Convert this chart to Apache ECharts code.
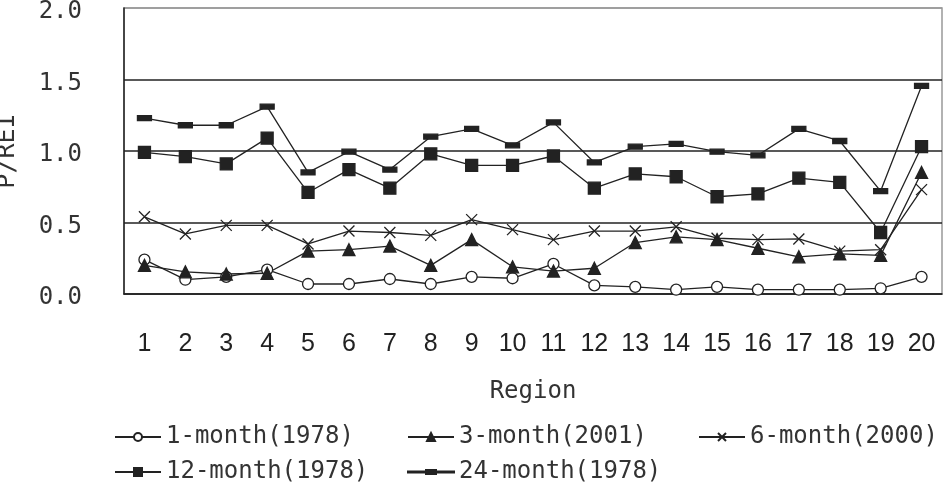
<!DOCTYPE html>
<html lang="en">
<head>
    <meta charset="UTF-8">
    <title>P/REI by region</title>
    <script src="https://cdn.jsdelivr.net/npm/echarts@6/dist/echarts.min.js"></script>
</head>
<body style="margin:0">
    <div id="container" style="width: 950px;height: 493px"></div>
    <script>
        // regions 1..20
        var regions = ['1', '2', '3', '4', '5', '6', '7', '8', '9', '10',
            '11', '12', '13', '14', '15', '16', '17', '18', '19', '20'];
        var yTicks = [0, 0.5, 1.0, 1.5, 2.0];

        var month1 = [0.24, 0.10, 0.12, 0.17, 0.07, 0.07, 0.105, 0.07, 0.12, 0.11,
            0.21, 0.06, 0.05, 0.03, 0.05, 0.03, 0.03, 0.03, 0.04, 0.12];
        var month3 = [0.20, 0.155, 0.14, 0.145, 0.30, 0.31, 0.335, 0.20, 0.38, 0.19,
            0.16, 0.18, 0.36, 0.40, 0.38, 0.32, 0.26, 0.28, 0.27, 0.85];
        var month6 = [0.54, 0.42, 0.48, 0.48, 0.35, 0.44, 0.43, 0.41, 0.52, 0.45,
            0.38, 0.44, 0.44, 0.47, 0.39, 0.38, 0.385, 0.30, 0.31, 0.73];
        var month12 = [0.99, 0.96, 0.91, 1.09, 0.71, 0.87, 0.74, 0.98, 0.90, 0.90,
            0.965, 0.74, 0.84, 0.82, 0.68, 0.70, 0.81, 0.78, 0.43, 1.03];
        var month24 = [1.23, 1.18, 1.18, 1.31, 0.85, 0.995, 0.87, 1.10, 1.155, 1.04,
            1.20, 0.92, 1.03, 1.05, 0.995, 0.97, 1.155, 1.07, 0.72, 1.455];

        var names = ['1-month(1978)', '3-month(2001)', '6-month(2000)', '12-month(1978)', '24-month(1978)'];

        var mono = '"DejaVu Sans Mono", monospace';
        var ink = '#222';

        // 공통 라인 스타일
        function line(name, data, symbol, size, fill) {
            return {
                name: name,
                type: 'line',
                data: data,
                symbol: symbol,
                symbolSize: size,
                symbolKeepAspect: true,
                showSymbol: true,
                color: ink,
                lineStyle: { color: ink, width: 1.3 },
                itemStyle: { color: fill, borderColor: ink, borderWidth: 1.3 },
                emphasis: { disabled: true },
                animation: false
            };
        }

        function legendCol(data, left, top, h) {
            return {
                data: data,
                orient: 'vertical',
                left: left,
                top: top,
                padding: 0,
                itemGap: 11,
                itemWidth: 46,
                itemHeight: h || 10,
                textStyle: { fontFamily: mono, fontSize: 24, color: '#333', lineHeight: 24 }
            };
        }

        var myChart = echarts.init(document.getElementById('container'));
        myChart.setOption({
            backgroundColor: '#fff',
            animation: false,
            grid: {
                left: 124, right: 8, top: 8, bottom: 199,
                outerBoundsMode: 'none',
                containLabel: false,
                show: true, borderColor: '#999', borderWidth: 1.5
            },
            legend: [
                legendCol([names[0], names[3]], 114, 425),
                legendCol([names[1]], 407, 425),
                // 24-month: 선 + 가로 막대 아이콘
                legendCol([{ name: names[4], icon: 'path://M0,2.1H46V2.9H0Z M18,0.5H28V4.5H18Z' }], 407, 460, 5),
                legendCol([names[2]], 698, 425)
            ],
            xAxis: {
                type: 'category',
                data: regions,
                boundaryGap: true,
                name: 'Region',
                nameLocation: 'middle',
                nameGap: 86,
                nameTextStyle: { fontFamily: mono, fontSize: 24, color: '#333' },
                axisLine: { lineStyle: { color: ink, width: 1.5 } },
                axisTick: { inside: true, length: 10, lineStyle: { color: ink, width: 1.3 } },
                axisLabel: { margin: 38, fontFamily: '"Liberation Sans", Arial', fontSize: 25, color: ink }
            },
            yAxis: {
                type: 'value',
                min: yTicks[0],
                max: yTicks[yTicks.length - 1],
                interval: 0.5,
                name: 'P/REI',
                nameLocation: 'middle',
                nameGap: 104,
                nameTextStyle: { fontFamily: mono, fontSize: 25, color: '#333' },
                axisLine: { show: true, lineStyle: { color: ink, width: 1.5 } },
                axisTick: { show: false },
                axisLabel: {
                    margin: 42,
                    formatter: function (v) { return '{v|' + v.toFixed(1) + '}'; },
                    rich: {
                        v: { fontFamily: mono, fontSize: 24, color: '#333', lineHeight: 24, padding: [8, 0, 0, 0] }
                    }
                },
                splitLine: { lineStyle: { color: ['#222', '#222', '#222', '#222', '#999'], width: 1.5 } }
            },
            series: [
                line(names[0], month1, 'circle', 11, '#fff'),
                line(names[1], month3, 'triangle', 12, ink),
                line(names[2], month6, 'path://M0,0L10,10M10,0L0,10', 11, 'none'),
                line(names[3], month12, 'rect', 12, ink),
                line(names[4], month24, 'path://M0,0H14V5H0Z', 14, ink)
            ]
        });
    </script>
</body>
</html>
